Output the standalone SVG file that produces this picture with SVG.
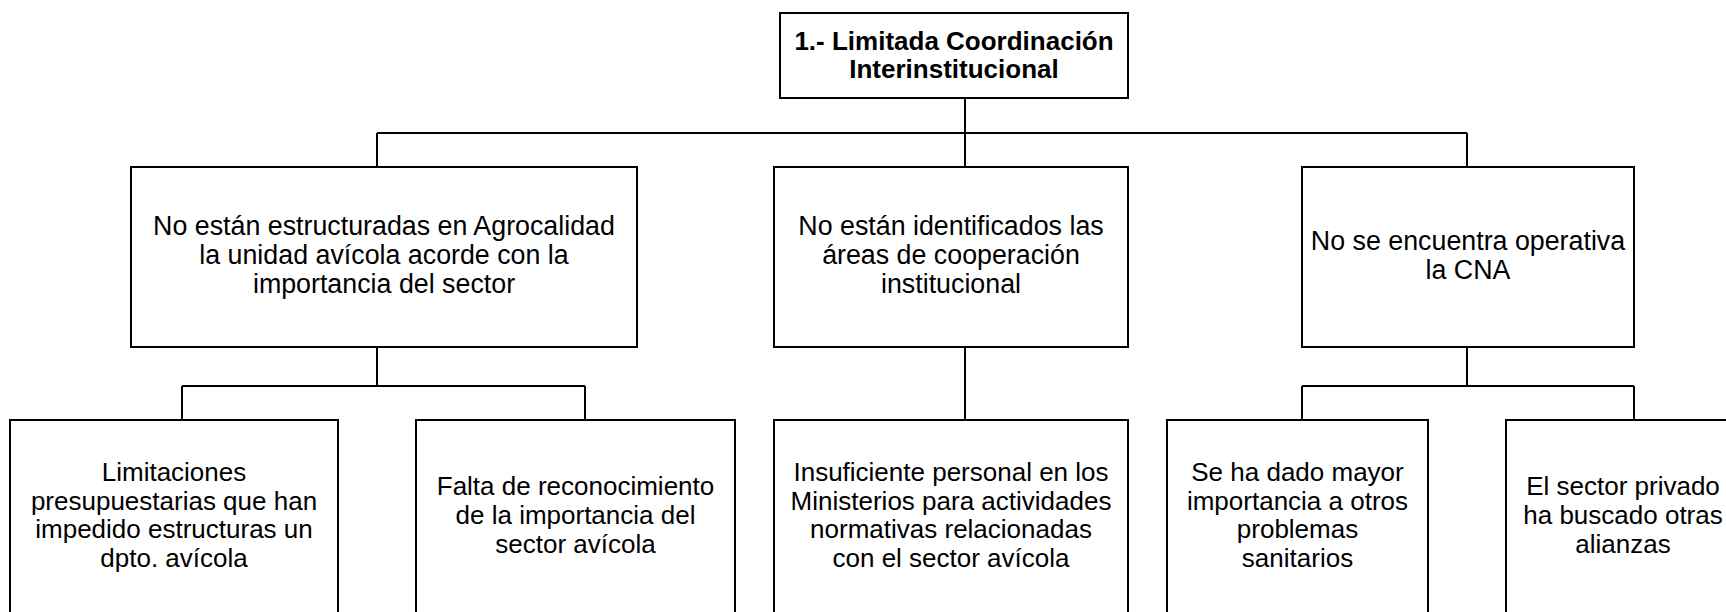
<svg xmlns="http://www.w3.org/2000/svg" width="1726" height="612" viewBox="0 0 1726 612">
<style>
.box{fill:#fff;stroke:#000;stroke-width:2}
.t{font-family:"Liberation Sans",Arial,sans-serif;font-size:26px;fill:#000;text-anchor:middle}
.m{font-size:26.8px}
.b{font-weight:bold}
.c{fill:none;stroke:#000;stroke-width:2}
</style>
<rect width="1726" height="612" fill="#fff"/>
<g id="connectors">
<path class="c" d="M965 98 V167"/>
<path class="c" d="M377 133 H1467 M377 133 V167 M1467 133 V167"/>
<path class="c" d="M377 347 V386 M182 386 H585 M182 386 V420 M585 386 V420"/>
<path class="c" d="M965 347 V420"/>
<path class="c" d="M1467 347 V386 M1302 386 H1634 M1302 386 V420 M1634 386 V420"/>
</g>
<g id="root">
<rect class="box" x="780" y="13" width="348" height="85"/>
<text class="t b" x="954" y="50">1.- Limitada Coordinación</text>
<text class="t b" x="954" y="78">Interinstitucional</text>
</g>
<g id="n1">
<rect class="box" x="131" y="167" width="506" height="180"/>
<text class="t m" x="384" y="235">No están estructuradas en Agrocalidad</text>
<text class="t m" x="384" y="264">la unidad avícola acorde con la</text>
<text class="t m" x="384" y="293">importancia del sector</text>
</g>
<g id="n2">
<rect class="box" x="774" y="167" width="354" height="180"/>
<text class="t m" x="951" y="235">No están identificados las</text>
<text class="t m" x="951" y="264">áreas de cooperación</text>
<text class="t m" x="951" y="293">institucional</text>
</g>
<g id="n3">
<rect class="box" x="1302" y="167" width="332" height="180"/>
<text class="t m" x="1468" y="250">No se encuentra operativa</text>
<text class="t m" x="1468" y="279">la CNA</text>
</g>
<g id="n1a">
<rect class="box" x="10" y="420" width="328" height="220"/>
<text class="t" x="174" y="481">Limitaciones</text>
<text class="t" x="174" y="509.6">presupuestarias que han</text>
<text class="t" x="174" y="538.2">impedido estructuras un</text>
<text class="t" x="174" y="566.8">dpto. avícola</text>
</g>
<g id="n1b">
<rect class="box" x="416" y="420" width="319" height="220"/>
<text class="t" x="575.5" y="495.3">Falta de reconocimiento</text>
<text class="t" x="575.5" y="523.9">de la importancia del</text>
<text class="t" x="575.5" y="552.5">sector avícola</text>
</g>
<g id="n2a">
<rect class="box" x="774" y="420" width="354" height="220"/>
<text class="t" x="951" y="481">Insuficiente personal en los</text>
<text class="t" x="951" y="509.6">Ministerios para actividades</text>
<text class="t" x="951" y="538.2">normativas relacionadas</text>
<text class="t" x="951" y="566.8">con el sector avícola</text>
</g>
<g id="n3a">
<rect class="box" x="1167" y="420" width="261" height="220"/>
<text class="t" x="1297.5" y="481">Se ha dado mayor</text>
<text class="t" x="1297.5" y="509.6">importancia a otros</text>
<text class="t" x="1297.5" y="538.2">problemas</text>
<text class="t" x="1297.5" y="566.8">sanitarios</text>
</g>
<g id="n3b">
<rect class="box" x="1506" y="420" width="260" height="220"/>
<text class="t" x="1623" y="495.3">El sector privado</text>
<text class="t" x="1623" y="523.9">ha buscado otras</text>
<text class="t" x="1623" y="552.5">alianzas</text>
</g>
</svg>
